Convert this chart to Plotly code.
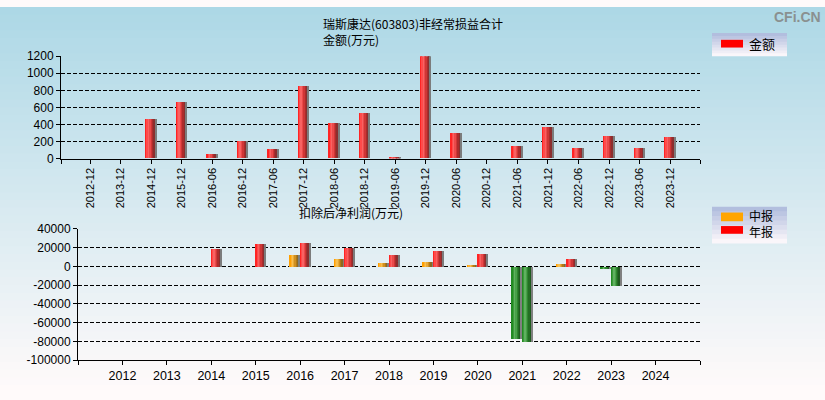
import plotly.graph_objects as go

# 非经常损益合计 (万元)
periods = ['2012-12', '2013-12', '2014-12', '2015-12', '2016-06', '2016-12', '2017-06',
           '2017-12', '2018-06', '2018-12', '2019-06', '2019-12', '2020-06', '2020-12',
           '2021-06', '2021-12', '2022-06', '2022-12', '2023-06', '2023-12']
amounts = [0, 0, 463, 655, 45, 203, 113, 846, 418, 530, 11, 1198, 293, 0,
           147, 372, 124, 260, 124, 248]

# 扣除后净利润 (万元)
years = [2012, 2013, 2014, 2015, 2016, 2017, 2018, 2019, 2020, 2021, 2022, 2023, 2024]
mid_profit = [None, None, None, None, 12300, 8200, 4100, 5100, 1000, -76900, 3100, -3100, None]
annual_profit = [None, None, 18500, 23600, 25600, 19500, 12300, 16400, 13300, -81000, 8200, -20800, None]

W, H = 825, 400

RED = ['#ff2424', '#ff4a4a', '#f86262', '#ea4a4a', '#cf3636', '#ac2c2c', '#8c2e2e', '#7c7c7c']
ORANGE = ['#ffa000', '#ffb030', '#f6c050', '#e8a838', '#d09020', '#b07818', '#8e6a20', '#808080']
GREEN = ['#228b22', '#3a9a3a', '#60b060', '#48a048', '#2e862e', '#236e23', '#1f5a1f', '#808080']


def px_x(v):
    return v / W


def px_y(v):
    return 1 - v / H


def add_bars(fig, x, y, width, offset, pos_colors, neg_colors, xaxis, yaxis):
    # 用多条窄柱叠出渐变效果
    n = len(pos_colors)
    w = width / n
    for i in range(n):
        cols = [pos_colors[i] if (v is None or v >= 0) else neg_colors[i] for v in y]
        fig.add_trace(go.Bar(
            x=x, y=y, width=w * 1.05, offset=offset + i * w,
            marker=dict(color=cols, line=dict(width=0)),
            xaxis=xaxis, yaxis=yaxis, showlegend=False, hoverinfo='skip'))


fig = go.Figure()

idx = list(range(len(periods)))
add_bars(fig, idx, amounts, 0.36, -0.18, RED, RED, 'x', 'y')
add_bars(fig, years, mid_profit, 0.235, -0.235, ORANGE, GREEN, 'x2', 'y2')
add_bars(fig, years, annual_profit, 0.235, 0.0, RED, GREEN, 'x2', 'y2')

# 背景渐变 (条带略有重叠, 避免缝隙)
shapes = []
n_strips = 50
c0 = (173, 216, 230)
c1 = (255, 250, 250)
for i in range(n_strips):
    t = i / (n_strips - 1)
    c = tuple(round(c0[k] + (c1[k] - c0[k]) * t) for k in range(3))
    shapes.append(dict(type='rect', xref='paper', yref='paper', layer='below',
                       x0=0, x1=1, y0=1 - (i + 1.6) / n_strips, y1=1 - i / n_strips,
                       fillcolor='rgb(%d,%d,%d)' % c, line=dict(width=0)))


# 图例框
def legend_box(top, bottom):
    n = 8
    a = (178, 190, 222)
    b = (250, 246, 250)
    for i in range(n):
        t = i / (n - 1)
        c = tuple(round(a[k] + (b[k] - a[k]) * t) for k in range(3))
        y0 = top + (bottom - top) * i / n
        y1 = min(bottom, top + (bottom - top) * (i + 1.5) / n)
        shapes.append(dict(type='rect', xref='paper', yref='paper',
                           x0=px_x(712), x1=px_x(787), y0=px_y(y1), y1=px_y(y0),
                           fillcolor='rgb(%d,%d,%d)' % c, line=dict(width=0)))


def swatch(top, bottom, color):
    shapes.append(dict(type='rect', xref='paper', yref='paper',
                       x0=px_x(721), x1=px_x(743), y0=px_y(bottom), y1=px_y(top),
                       fillcolor=color, line=dict(width=0)))


legend_box(27, 51)
swatch(34, 42, '#ff0000')
legend_box(207, 245)
swatch(213, 222, '#ffa500')
swatch(227, 235, '#ff0000')

cjk = 'Noto Sans CJK SC'
annotations = []


def label(text, x, y, size=12, anchor='left', color='black', family=cjk):
    annotations.append(dict(text=text, xref='paper', yref='paper', x=px_x(x), y=px_y(y),
                            xanchor=anchor, yanchor='middle', align='left', showarrow=False,
                            font=dict(family=family, size=size, color=color)))


label('瑞斯康达(603803)非经常损益合计<br>金额(万元)', 321, 25)
label('扣除后净利润(万元)', 297, 213)
label('<b>CFi.CN</b>', 823, 10, size=14, anchor='right', color='#8a9090', family='Liberation Sans')
label('金额', 747, 38, size=13)
label('中报<br>年报', 747, 224, size=12)

tick_font = dict(family='Liberation Sans', size=12, color='black')
axis_common = dict(showline=True, linecolor='black', linewidth=1, ticks='outside',
                   ticklen=4, tickcolor='black', zeroline=False)

y2_ticks = list(range(-100000, 40001, 20000))

fig.update_layout(
    width=W, height=H,
    margin=dict(l=0, r=0, t=0, b=0),
    paper_bgcolor='rgb(255,250,250)',
    plot_bgcolor='rgba(0,0,0,0)',
    barmode='overlay',
    bargap=0,
    showlegend=False,
    shapes=shapes,
    annotations=annotations,
    xaxis=dict(domain=[px_x(61), px_x(700)], range=[-0.95, 19.98],
               tickvals=[-0.95] + idx + [19.98], ticktext=[''] + periods + [''],
               tickangle=-90, tickfont=dict(family='Liberation Sans', size=11, color='black'),
               showgrid=False, anchor='y', **axis_common),
    yaxis=dict(domain=[px_y(157), px_y(51)], range=[0, 1200],
               tickvals=[0, 200, 400, 600, 800, 1000, 1200], tickfont=tick_font,
               showgrid=True, gridcolor='black', gridwidth=1, griddash='4px,2px',
               anchor='x', **axis_common),
    xaxis2=dict(domain=[px_x(78), px_x(700)], range=[2011, 2025],
                tickvals=list(range(2011, 2026)),
                ticktext=[''] + [str(y) for y in years] + [''],
                tickfont=dict(family='Liberation Sans', size=12.5, color='black'),
                showgrid=False, anchor='y2', **axis_common),
    yaxis2=dict(domain=[px_y(366), px_y(230)], range=[-100000, 40000],
                tickvals=y2_ticks, ticktext=[str(v) for v in y2_ticks], tickfont=tick_font,
                showgrid=True, gridcolor='black', gridwidth=1, griddash='4px,2px',
                anchor='x2', **axis_common),
)

page_css = ("document.documentElement.style.overflow='hidden';"
            "document.body.style.overflow='hidden';"
            "document.body.style.margin='0px';")
fig.write_html('out.html', config={'displayModeBar': False}, post_script=page_css)
